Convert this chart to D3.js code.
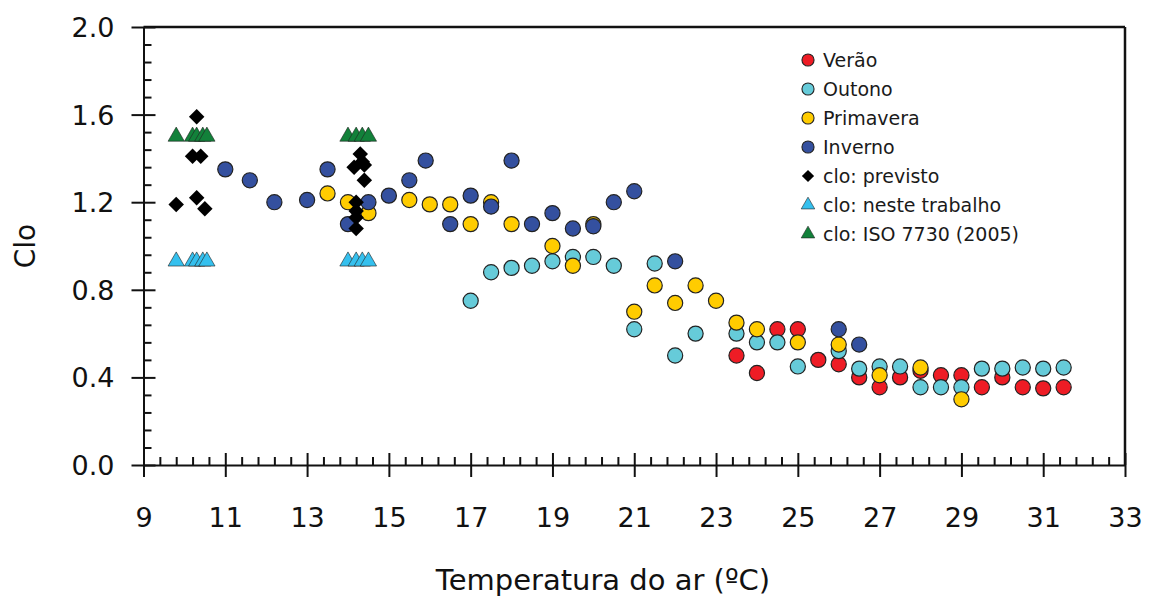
<!DOCTYPE html>
<html>
<head>
<meta charset="utf-8">
<script src="https://cdn.jsdelivr.net/npm/d3@7/dist/d3.min.js"></script>
<style>
  html, body { margin: 0; padding: 0; background: #fff; }
  svg { display: block; font-family: "DejaVu Sans", Verdana, sans-serif; }
</style>
</head>
<body>
<svg id="chart" width="1156" height="597"></svg>
<script>
// ---- Data (temperature °C, clo) ----
const verao = [[23.5,0.50],[24,0.42],[24.5,0.62],[25,0.62],[25.5,0.48],[26,0.46],[26.5,0.40],[27,0.355],[27.5,0.40],[28,0.43],[28.5,0.41],[29,0.41],[29.5,0.355],[30,0.40],[30.5,0.355],[31,0.35],[31.5,0.355]];
const outono = [[17,0.75],[17.5,0.88],[18,0.90],[18.5,0.91],[19,0.93],[19.5,0.95],[20,0.95],[20.5,0.91],[21,0.62],[21.5,0.92],[22,0.50],[22.5,0.60],[23.5,0.60],[24,0.56],[24.5,0.56],[25,0.45],[26,0.52],[26.5,0.44],[27,0.45],[27.5,0.45],[28,0.355],[28.5,0.355],[29,0.355],[29.5,0.44],[30,0.44],[30.5,0.445],[31,0.44],[31.5,0.445]];
const primavera = [[13.5,1.24],[14,1.20],[14.5,1.15],[15.5,1.21],[16,1.19],[16.5,1.19],[17,1.10],[17.5,1.20],[18,1.10],[19,1.00],[19.5,0.91],[20,1.10],[21,0.70],[21.5,0.82],[22,0.74],[22.5,0.82],[23,0.75],[23.5,0.65],[24,0.62],[25,0.56],[26,0.55],[27,0.41],[28,0.445],[29,0.30]];
const inverno = [[11,1.35],[11.6,1.30],[12.2,1.20],[13,1.21],[13.5,1.35],[14,1.10],[14.5,1.20],[15,1.23],[15.5,1.30],[15.9,1.39],[16.5,1.10],[17,1.23],[17.5,1.18],[18,1.39],[18.5,1.10],[19,1.15],[19.5,1.08],[20,1.09],[20.5,1.20],[21,1.25],[22,0.93],[26,0.62],[26.5,0.55]];
const previsto = [[9.8,1.19],[10.2,1.41],[10.3,1.59],[10.4,1.41],[10.3,1.22],[10.5,1.17],[14.3,1.42],[14.35,1.385],[14.15,1.36],[14.4,1.37],[14.4,1.30],[14.2,1.20],[14.2,1.16],[14.2,1.13],[14.2,1.08]];
const nesteTrabalho = [[9.8,0.93],[10.2,0.93],[10.3,0.93],[10.45,0.93],[10.55,0.93],[14.0,0.93],[14.2,0.93],[14.35,0.93],[14.5,0.93]];
const iso7730 = [[9.8,1.5],[10.2,1.5],[10.3,1.5],[10.45,1.5],[10.55,1.5],[14.0,1.5],[14.2,1.5],[14.35,1.5],[14.5,1.5]];

const legendLabels = ["Verão","Outono","Primavera","Inverno","clo: previsto","clo: neste trabalho","clo: ISO 7730 (2005)"];
const xTicks = [9,11,13,15,17,19,21,23,25,27,29,31,33];
const yTicks = [0,0.4,0.8,1.2,1.6,2.0];

// ---- Layout ----
const svg = d3.select("#chart");
const x = d3.scaleLinear().domain([9,33]).range([143.5,1125]);
const y = d3.scaleLinear().domain([0,2]).range([465,27]);

const series = [
  {data: verao, shape: "circle", fill: "#ee1c25"},
  {data: outono, shape: "circle", fill: "#66cbd9"},
  {data: primavera, shape: "circle", fill: "#ffcc00"},
  {data: inverno, shape: "circle", fill: "#34509f"},
  {data: previsto, shape: "diamond", fill: "#000000"},
  {data: nesteTrabalho, shape: "triangle", fill: "#35c0ee"},
  {data: iso7730, shape: "triangle", fill: "#12813a"}
];

function symbolPath(shape, size) {
  const t = shape === "circle" ? d3.symbolCircle : shape === "diamond" ? d3.symbolSquare : d3.symbolTriangle;
  return d3.symbol().type(t).size(size)();
}
const rot = shape => shape === "diamond" ? " rotate(45)" : "";

// ---- Frame (top and right) ----
svg.append("line").attr("x1", x(9)).attr("x2", x(33)).attr("y1", y(2)).attr("y2", y(2))
  .attr("stroke", "#111").attr("stroke-width", 2.5);
svg.append("line").attr("x1", x(33)).attr("x2", x(33)).attr("y1", y(2)).attr("y2", y(0))
  .attr("stroke", "#111").attr("stroke-width", 2.5);

// ---- X axis ----
const minorX = d3.range(0, 61).map(i => 9 + i*0.4).filter(v => Math.abs((v-9)/2 - Math.round((v-9)/2)) > 1e-6);
const gxMinor = svg.append("g").attr("transform", `translate(0,${y(0)})`)
  .call(d3.axisBottom(x).tickValues(minorX).tickSizeInner(-8).tickSizeOuter(0).tickFormat(""));
gxMinor.select(".domain").remove();
const gx = svg.append("g").attr("transform", `translate(0,${y(0)})`)
  .call(d3.axisBottom(x).tickValues(xTicks).tickSizeInner(12).tickSizeOuter(0).tickFormat(d3.format("d")));
gx.selectAll(".tick line").attr("y1", -12).attr("y2", 12);
gx.selectAll(".tick text").attr("y", 53).attr("dy", "0.35em").attr("font-size", 27).attr("fill", "#111")
  .attr("font-family", "DejaVu Sans, sans-serif");
[gx, gxMinor].forEach(g => g.selectAll("line, path").attr("stroke", "#111").attr("stroke-width", 2));

// ---- Y axis ----
const minorY = d3.range(0, 26).map(i => i*0.08).filter(v => Math.abs(v/0.4 - Math.round(v/0.4)) > 1e-6);
const gyMinor = svg.append("g").attr("transform", `translate(${x(9)},0)`)
  .call(d3.axisLeft(y).tickValues(minorY).tickSizeInner(-8).tickSizeOuter(0).tickFormat(""));
gyMinor.select(".domain").remove();
const gy = svg.append("g").attr("transform", `translate(${x(9)},0)`)
  .call(d3.axisLeft(y).tickValues(yTicks).tickSizeInner(12).tickSizeOuter(0).tickFormat(d3.format(".1f")));
gy.selectAll(".tick line").attr("x1", -12).attr("x2", 12);
gy.selectAll(".tick text").attr("x", -29).attr("dy", "0.35em").attr("font-size", 27).attr("fill", "#111")
  .attr("font-family", "DejaVu Sans, sans-serif");
[gy, gyMinor].forEach(g => g.selectAll("line, path").attr("stroke", "#111").attr("stroke-width", 2));

// ---- Axis titles ----
svg.append("text").attr("x", 603).attr("y", 590).attr("text-anchor", "middle")
  .attr("font-size", 29).attr("fill", "#111").text("Temperatura do ar (ºC)");
svg.append("text").attr("transform", `translate(35,${y(1)}) rotate(-90)`).attr("text-anchor", "middle")
  .attr("font-size", 28).attr("fill", "#111").text("Clo");

// ---- Points ----
series.forEach(s => {
  const size = s.shape === "circle" ? 180 : s.shape === "diamond" ? 120 : 115;
  svg.append("g").selectAll("path").data(s.data).join("path")
    .attr("d", symbolPath(s.shape, size))
    .attr("transform", d => `translate(${x(d[0])},${y(d[1])})` + rot(s.shape))
    .attr("fill", s.fill)
    .attr("stroke", s.shape === "diamond" ? "none" : "#222")
    .attr("stroke-width", s.shape === "triangle" ? 0.6 : 1.2);
});

// ---- Legend ----
const leg = svg.append("g").attr("transform", "translate(808,60)");
series.forEach((s, i) => {
  const row = leg.append("g").attr("transform", `translate(0,${i*29})`);
  const size = s.shape === "circle" ? 115 : s.shape === "diamond" ? 75 : 80;
  row.append("path").attr("d", symbolPath(s.shape, size))
    .attr("transform", rot(s.shape).trim())
    .attr("fill", s.fill)
    .attr("stroke", s.shape === "diamond" ? "none" : "#222")
    .attr("stroke-width", s.shape === "triangle" ? 0.6 : 1.1);
  row.append("text").attr("x", 15).attr("dy", "0.35em").attr("font-size", 19).attr("fill", "#1a1a1a")
    .text(legendLabels[i]);
});
</script>
</body>
</html>
